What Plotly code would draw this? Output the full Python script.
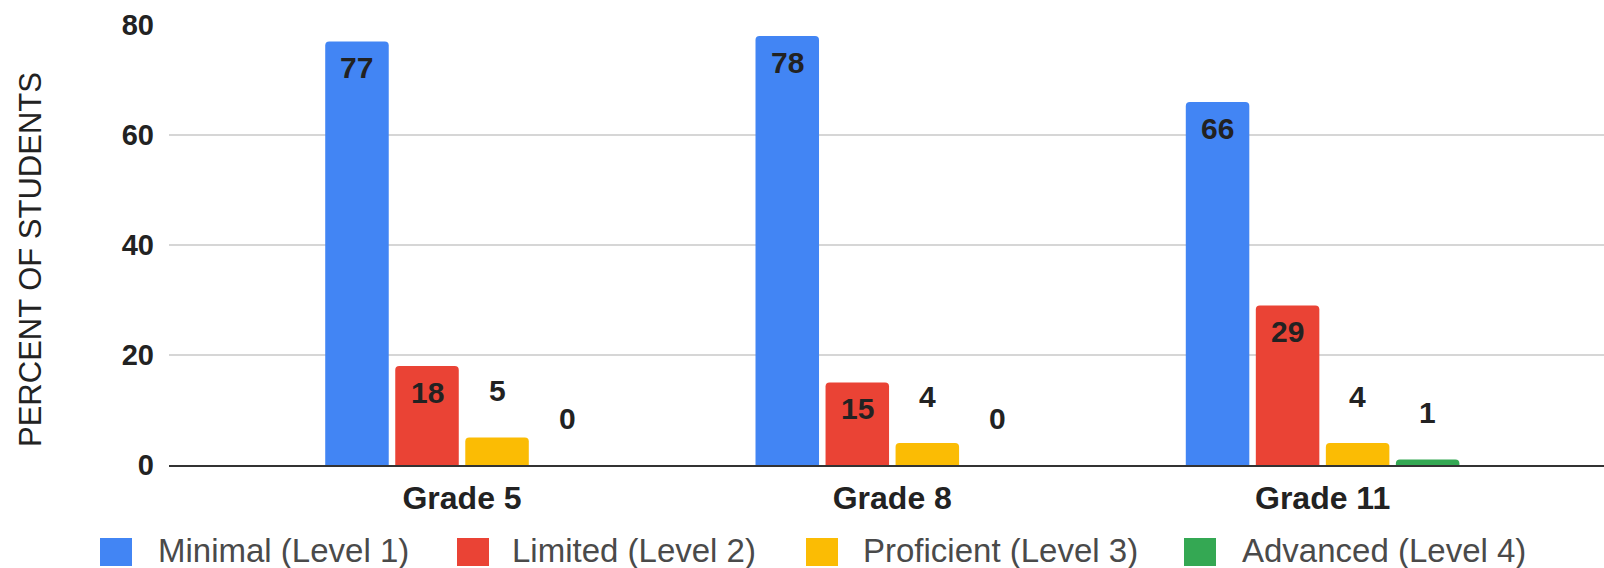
import plotly.graph_objects as go

# ---------------- data ----------------
categories = ["Grade 5", "Grade 8", "Grade 11"]
series_names = ["Minimal (Level 1)", "Limited (Level 2)", "Proficient (Level 3)", "Advanced (Level 4)"]
minimal = [77, 78, 66]
limited = [18, 15, 29]
proficient = [5, 4, 4]
advanced = [0, 0, 1]
y_ticks = [0, 20, 40, 60, 80]
y_title = "PERCENT OF STUDENTS"

series_values = [minimal, limited, proficient, advanced]
colors = ["#4285F4", "#EA4335", "#FBBC04", "#34A853"]

# ---------------- layout constants ----------------
W, H = 1604, 568
ML, MR, MT, MB = 169, 0, 25, 103
PW, PH = W - ML - MR, H - MT - MB
BARGAP = 0.349
BARGROUPGAP = 0.093
FONT = "Arial, Liberation Sans, sans-serif"


def px_x(p):
    return (p - ML) / PW


def px_y(p):
    return (H - MB - p) / PH


fig = go.Figure()
for name, vals, col in zip(series_names, series_values, colors):
    fig.add_trace(go.Bar(
        x=categories, y=vals, name=name,
        marker=dict(color=col, line=dict(width=0), cornerradius=4),
        showlegend=False, hoverinfo="x+y+name",
    ))

# value labels (positioned from the bar grouping parameters)
n = len(series_values)
slot = (1 - BARGAP) / n
annotations = []
for si, vals in enumerate(series_values):
    off = (si - (n - 1) / 2) * slot
    for ci, v in enumerate(vals):
        inside = v >= 10
        annotations.append(dict(
            x=ci + off, y=v, xref="x", yref="y", text=str(v), showarrow=False,
            xanchor="center", yanchor="middle", yshift=-26 if inside else 47,
            font=dict(family=FONT, size=30, color="#222222", weight="bold"),
        ))

# y-axis title
annotations.append(dict(
    x=px_x(30), y=px_y(260), xref="paper", yref="paper", text=y_title,
    textangle=-90, showarrow=False, xanchor="center", yanchor="middle",
    font=dict(family=FONT, size=31, color="#222222"),
))

# custom legend (large swatches as in the reference)
legend_sq_x = [100, 457, 806, 1184]
legend_tx_x = [156, 510, 861, 1240]
shapes = []
for name, col, sx, tx in zip(series_names, colors, legend_sq_x, legend_tx_x):
    shapes.append(dict(
        type="rect", xref="paper", yref="paper",
        x0=px_x(sx), x1=px_x(sx + 32), y0=px_y(566), y1=px_y(538),
        fillcolor=col, line=dict(width=0), layer="above",
    ))
    annotations.append(dict(
        x=px_x(tx), y=px_y(550), xref="paper", yref="paper", text=name,
        showarrow=False, xanchor="left", yanchor="middle",
        font=dict(family=FONT, size=33, color="#4a4a4a"),
    ))

fig.update_layout(
    width=W, height=H, autosize=False,
    margin=dict(l=ML, r=MR, t=MT, b=MB, pad=0),
    barmode="group", bargap=BARGAP, bargroupgap=BARGROUPGAP,
    plot_bgcolor="white", paper_bgcolor="white",
    showlegend=False,
    annotations=annotations, shapes=shapes,
    font=dict(family=FONT),
)
fig.update_xaxes(
    type="category", range=[-0.681, 2.654],
    showgrid=False, showline=True, linecolor="#333333", linewidth=2,
    ticks="", ticklabelstandoff=4,
    tickfont=dict(family=FONT, size=32, color="#222222", weight="bold"),
    zeroline=False,
)
fig.update_yaxes(
    range=[0, 80], tickvals=y_ticks, showgrid=True, gridcolor="#d6d6d6", gridwidth=2,
    zeroline=False, showline=False, ticks="", ticklabelstandoff=14,
    tickfont=dict(family=FONT, size=29, color="#222222", weight="bold"),
)

fig.write_html(
    "out.html",
    config={"displayModeBar": False},
    post_script="document.body.style.margin='0px';document.body.style.overflow='hidden';",
)
